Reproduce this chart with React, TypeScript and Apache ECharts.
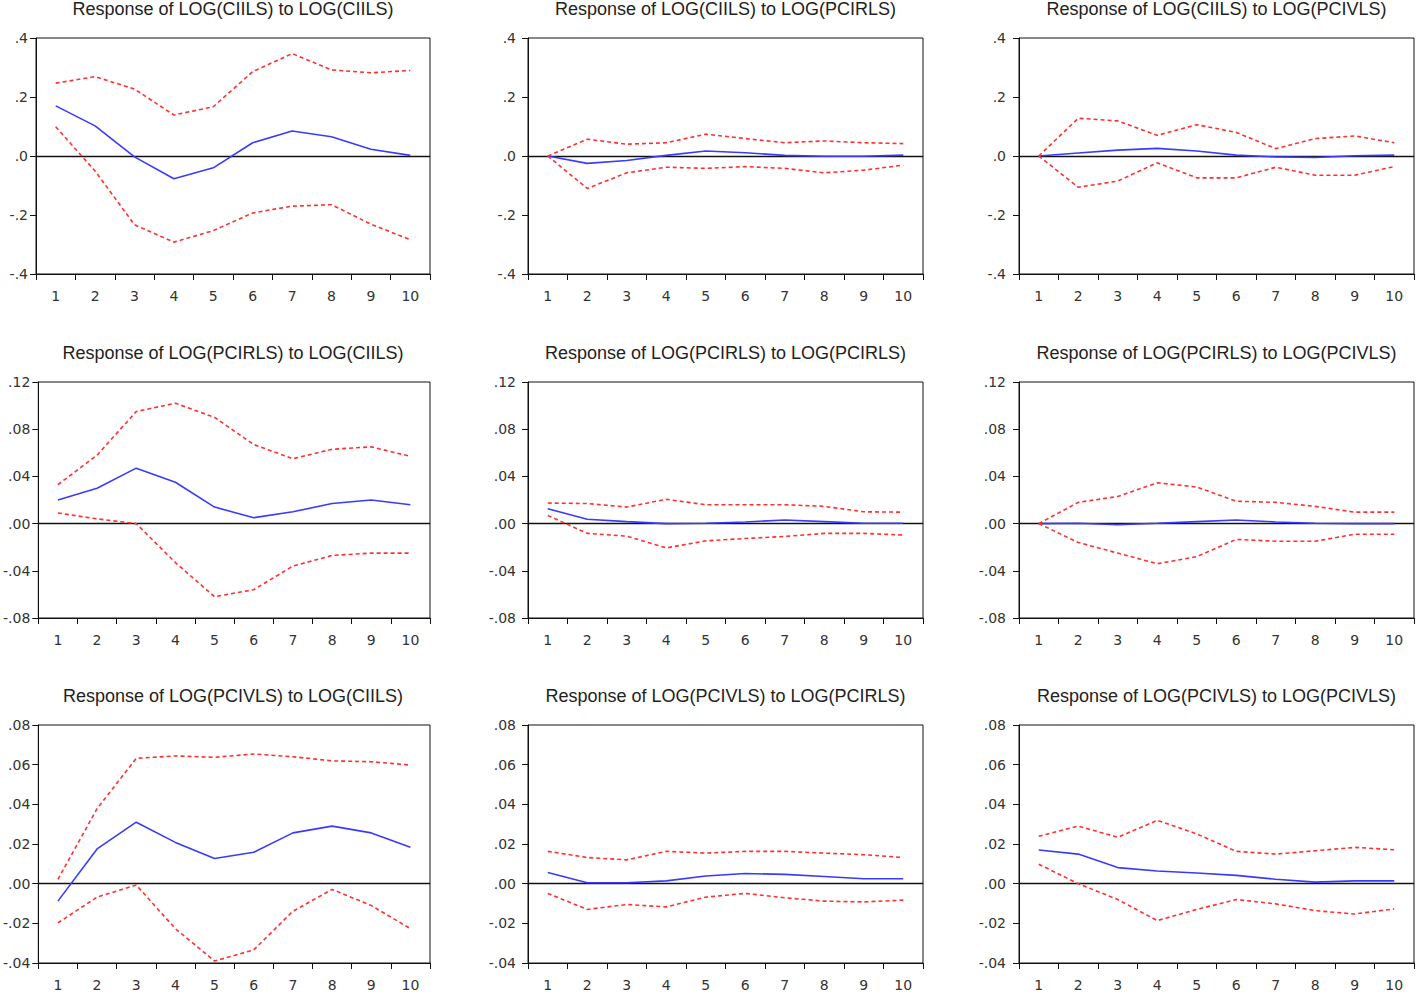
import React, { useEffect, useRef } from "react";
import * as echarts from "echarts";

const categories = ["1", "2", "3", "4", "5", "6", "7", "8", "9", "10"];

const titles = [
  "Response of LOG(CIILS) to LOG(CIILS)",
  "Response of LOG(CIILS) to LOG(PCIRLS)",
  "Response of LOG(CIILS) to LOG(PCIVLS)",
  "Response of LOG(PCIRLS) to LOG(CIILS)",
  "Response of LOG(PCIRLS) to LOG(PCIRLS)",
  "Response of LOG(PCIRLS) to LOG(PCIVLS)",
  "Response of LOG(PCIVLS) to LOG(CIILS)",
  "Response of LOG(PCIVLS) to LOG(PCIRLS)",
  "Response of LOG(PCIVLS) to LOG(PCIVLS)",
];

// y-axis ticks per row
const row1Ticks = [-0.4, -0.2, 0, 0.2, 0.4];
const row1TickLabels = ["-.4", "-.2", ".0", ".2", ".4"];
const row2Ticks = [-0.08, -0.04, 0, 0.04, 0.08, 0.12];
const row2TickLabels = ["-.08", "-.04", ".00", ".04", ".08", ".12"];
const row3Ticks = [-0.04, -0.02, 0, 0.02, 0.04, 0.06, 0.08];
const row3TickLabels = ["-.04", "-.02", ".00", ".02", ".04", ".06", ".08"];

// Row 1
const resp11 = [0.170, 0.102, -0.003, -0.077, -0.040, 0.045, 0.085, 0.065, 0.023, 0.002];
const hi11 = [0.247, 0.269, 0.227, 0.139, 0.167, 0.286, 0.347, 0.292, 0.282, 0.290];
const lo11 = [0.099, -0.051, -0.233, -0.292, -0.253, -0.193, -0.170, -0.165, -0.231, -0.284];

const resp12 = [0, -0.025, -0.015, 0.002, 0.017, 0.011, 0.002, -0.001, -0.001, 0.003];
const hi12 = [0, 0.057, 0.040, 0.045, 0.074, 0.059, 0.045, 0.051, 0.045, 0.042];
const lo12 = [0, -0.110, -0.057, -0.038, -0.042, -0.036, -0.042, -0.057, -0.048, -0.031];

const resp13 = [0, 0.010, 0.020, 0.026, 0.017, 0.003, -0.003, -0.005, 0.001, 0.003];
const hi13 = [0, 0.128, 0.119, 0.070, 0.106, 0.080, 0.025, 0.059, 0.068, 0.045];
const lo13 = [0, -0.106, -0.085, -0.023, -0.074, -0.074, -0.038, -0.065, -0.065, -0.036];

// Row 2
const resp21 = [0.020, 0.030, 0.047, 0.035, 0.014, 0.005, 0.010, 0.017, 0.020, 0.016];
const hi21 = [0.033, 0.058, 0.095, 0.102, 0.090, 0.067, 0.055, 0.063, 0.065, 0.057];
const lo21 = [0.009, 0.004, 0.000, -0.033, -0.062, -0.056, -0.036, -0.027, -0.025, -0.025];

const resp22 = [0.0126, 0.0037, 0.0017, 0.0, 0.0003, 0.0014, 0.003, 0.0017, 0.0003, 0.0003];
const hi22 = [0.0174, 0.017, 0.014, 0.0206, 0.016, 0.016, 0.016, 0.0146, 0.010, 0.0097];
const lo22 = [0.0069, -0.0083, -0.0106, -0.0206, -0.0146, -0.0126, -0.0109, -0.0083, -0.0083, -0.0097];

const resp23 = [0, 0.0003, -0.001, 0.0003, 0.0017, 0.003, 0.0014, 0.0003, 0, 0];
const hi23 = [0, 0.018, 0.023, 0.0346, 0.031, 0.019, 0.018, 0.0146, 0.0097, 0.0097];
const lo23 = [0, -0.016, -0.025, -0.034, -0.028, -0.0134, -0.0149, -0.0149, -0.009, -0.009];

// Row 3
const resp31 = [-0.0088, 0.0175, 0.031, 0.0208, 0.0127, 0.0158, 0.0256, 0.029, 0.0256, 0.0183];
const hi31 = [0.0022, 0.0378, 0.0632, 0.0644, 0.0637, 0.0654, 0.064, 0.0619, 0.0615, 0.0598];
const lo31 = [-0.0198, -0.0068, -0.0007, -0.0227, -0.039, -0.0334, -0.0139, -0.0029, -0.011, -0.0227];

const resp32 = [0.0056, 0.0005, 0.0005, 0.0014, 0.0039, 0.0051, 0.0047, 0.0036, 0.0025, 0.0025];
const hi32 = [0.0163, 0.0132, 0.012, 0.0163, 0.0154, 0.0163, 0.0163, 0.0154, 0.0146, 0.0132];
const lo32 = [-0.0049, -0.013, -0.0105, -0.0117, -0.0068, -0.0049, -0.0071, -0.0088, -0.0092, -0.0083];

const resp33 = [0.017, 0.0149, 0.0081, 0.0064, 0.0054, 0.0042, 0.0022, 0.0008, 0.0014, 0.0014];
const hi33 = [0.0239, 0.029, 0.0234, 0.0319, 0.0251, 0.0163, 0.0149, 0.0166, 0.0183, 0.0171];
const lo33 = [0.0098, 0.0, -0.008, -0.0186, -0.013, -0.008, -0.0102, -0.0136, -0.0153, -0.0127];

const panels = [
  [resp11, hi11, lo11], [resp12, hi12, lo12], [resp13, hi13, lo13],
  [resp21, hi21, lo21], [resp22, hi22, lo22], [resp23, hi23, lo23],
  [resp31, hi31, lo31], [resp32, hi32, lo32], [resp33, hi33, lo33],
];

const rowTicks = [row1Ticks, row2Ticks, row3Ticks];
const rowTickLabels = [row1TickLabels, row2TickLabels, row3TickLabels];

// layout (pixels)
const colLeft = [36, 528, 1019];
const colWidth = [394, 395, 395];
const colLabelMargin = [8, 12, 13];
const rowTop = [38, 382, 725];
const rowHeight = [236, 236, 238];
const titleTop = [0, 344, 687];

const TITLE_FONT = "'Liberation Sans', Arial, sans-serif";
const AXIS_FONT = "'DejaVu Sans', Verdana, sans-serif";

export default function App() {
  const ref = useRef<HTMLDivElement>(null);

  useEffect(() => {
    if (!ref.current) return;
    const chart = echarts.init(ref.current, undefined, { renderer: "svg" });

    const grid: any[] = [];
    const xAxis: any[] = [];
    const yAxis: any[] = [];
    const series: any[] = [];
    const title: any[] = [];

    for (let i = 0; i < 9; i++) {
      const r = Math.floor(i / 3);
      const c = i % 3;
      const ticks = rowTicks[r];
      const labels = rowTickLabels[r];
      const interval = ticks[1] - ticks[0];
      grid.push({
        left: colLeft[c],
        top: rowTop[r],
        width: colWidth[c],
        height: rowHeight[r],
        show: true,
        borderColor: "#111",
        borderWidth: 1,
        backgroundColor: "transparent",
      });
      title.push({
        text: titles[i],
        left: colLeft[c] + colWidth[c] / 2,
        top: titleTop[r],
        textAlign: "center",
        padding: 0,
        textStyle: { fontFamily: TITLE_FONT, fontSize: 18, fontWeight: "normal", color: "#222" },
      });
      xAxis.push({
        type: "category",
        gridIndex: i,
        data: categories,
        boundaryGap: true,
        axisLine: { show: true, onZero: false, lineStyle: { color: "#111", width: 1 } },
        axisTick: { show: true, length: 6, lineStyle: { color: "#111" } },
        axisLabel: { fontFamily: AXIS_FONT, fontSize: 14, color: "#333", margin: 15, interval: 0 },
        splitLine: { show: false },
      });
      yAxis.push({
        type: "value",
        gridIndex: i,
        min: ticks[0],
        max: ticks[ticks.length - 1],
        interval,
        axisLine: { show: true, lineStyle: { color: "#111", width: 1 } },
        axisTick: { show: true, length: 6, lineStyle: { color: "#111" } },
        axisLabel: {
          fontFamily: AXIS_FONT,
          fontSize: 14,
          color: "#333",
          margin: colLabelMargin[c],
          formatter: (v: number) => {
            let best = 0;
            for (let k = 1; k < ticks.length; k++) {
              if (Math.abs(ticks[k] - v) < Math.abs(ticks[best] - v)) best = k;
            }
            return labels[best];
          },
        },
        splitLine: { show: false },
      });
      const [resp, hi, lo] = panels[i];
      series.push({
        type: "line",
        xAxisIndex: i,
        yAxisIndex: i,
        data: resp,
        symbol: "none",
        lineStyle: { color: "#3a3aff", width: 1.6 },
        z: 3,
        markLine: {
          silent: true,
          symbol: "none",
          label: { show: false },
          lineStyle: { color: "#111", type: "solid", width: 1.3 },
          data: [{ yAxis: 0 }],
          z: 2,
        },
      });
      series.push({
        type: "line",
        xAxisIndex: i,
        yAxisIndex: i,
        data: hi,
        symbol: "none",
        lineStyle: { color: "#ff3030", width: 1.6, type: [4, 3] },
        z: 3,
      });
      series.push({
        type: "line",
        xAxisIndex: i,
        yAxisIndex: i,
        data: lo,
        symbol: "none",
        lineStyle: { color: "#ff3030", width: 1.6, type: [4, 3] },
        z: 3,
      });
    }

    chart.setOption({
      animation: false,
      backgroundColor: "#fff",
      title,
      grid,
      xAxis,
      yAxis,
      series,
    });

    return () => chart.dispose();
  }, []);

  return (
    <div
      ref={ref}
      style={{ position: "absolute", left: 0, top: 0, width: 1416, height: 992 }}
    />
  );
}
